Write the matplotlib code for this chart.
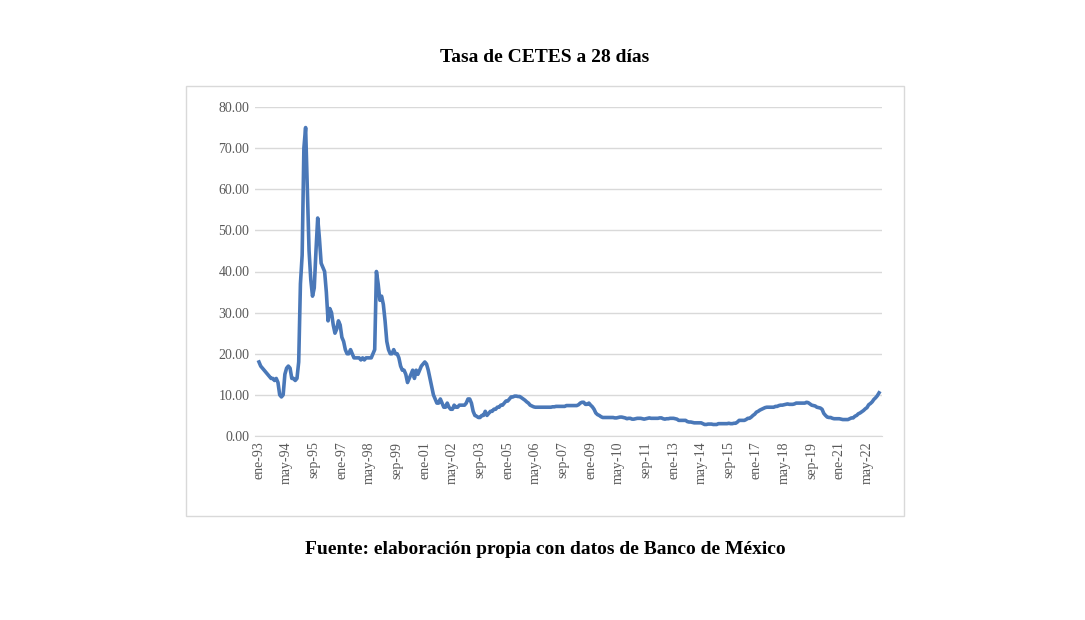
import matplotlib
matplotlib.use("Agg")
import matplotlib.pyplot as plt
from matplotlib.patches import Rectangle

tick_labels = ["ene-93","may-94","sep-95","ene-97","may-98","sep-99","ene-01","may-02",
               "sep-03","ene-05","may-06","sep-07","ene-09","may-10","sep-11","ene-13",
               "may-14","sep-15","ene-17","may-18","sep-19","ene-21","may-22"]
y1993 = [18,17,16.5,16,15.5,15,14.5,14,14,13.5,14,13]
y1994 = [10,9.5,10,15,16.5,17,16.5,14,14,13.5,14,18]
y1995 = [37,44,70,75,60,45,38,34,36,45,53,48]
y1996 = [42,41,40,35,28,31,30,27,25,26,28,27]
y1997 = [24,23,21,20,20,21,20,19,19,19,19,18.5]
y1998 = [19,18.5,19,19,19,19,20,21,40,37,33,34]
y1999 = [32,28,23,21,20,20,21,20,20,19,17,16]
y2000 = [16,15,13,14,15,16,14,16,15,16,17,17.5]
y2001 = [18,17.5,16,14,12,10,9,8,8,9,8,7]
y2002 = [7,8,7,6.5,6.5,7.5,7,7,7.5,7.5,7.5,7.5]
y2003 = [8,9,9,8,6,5,4.8,4.5,4.5,5,5,6]
y2004 = [5,5.5,6,6,6.5,6.5,7,7,7.5,7.5,8,8.5]
y2005 = [8.5,9,9.5,9.5,9.7,9.7,9.6,9.6,9.3,9,8.7,8.3]
y2006 = [8,7.5,7.3,7.1,7,7,7,7,7,7,7,7]
y2007 = [7,7,7.1,7.1,7.2,7.2,7.2,7.2,7.2,7.2,7.4,7.4]
y2008 = [7.4,7.4,7.4,7.4,7.4,7.6,8,8.2,8.2,7.7,7.7,8]
y2009 = [7.5,7.1,6.5,5.6,5.2,5,4.7,4.5,4.5,4.5,4.5,4.5]
y2010 = [4.5,4.5,4.4,4.4,4.5,4.6,4.6,4.5,4.4,4.2,4.3,4.3]
y2011 = [4.1,4.1,4.2,4.3,4.3,4.3,4.2,4.1,4.2,4.3,4.4,4.3]
y2012 = [4.3,4.3,4.3,4.3,4.4,4.4,4.2,4.1,4.2,4.2,4.3,4.3]
y2013 = [4.3,4.2,4.1,3.8,3.8,3.8,3.8,3.8,3.5,3.4,3.4,3.3]
y2014 = [3.2,3.2,3.2,3.2,3.2,3.0,2.8,2.8,2.9,2.9,2.9,2.8]
y2015 = [2.8,2.8,3,3,3,3,3,3,3.1,3,3,3.1]
y2016 = [3.1,3.4,3.8,3.8,3.8,3.8,4,4.3,4.3,4.6,5,5.3]
y2017 = [5.8,6,6.3,6.5,6.7,6.9,7,7,7,7,7,7.2]
y2018 = [7.2,7.4,7.5,7.5,7.6,7.7,7.8,7.7,7.7,7.7,7.8,8]
y2019 = [8,8,8,8,8,8.2,8.1,7.8,7.5,7.4,7.3,7]
y2020 = [6.9,6.8,6.5,5.5,5,4.6,4.5,4.5,4.3,4.2,4.2,4.2]
y2021 = [4.2,4.1,4,4,4,4,4.2,4.4,4.4,4.8,5,5.4]
y2022 = [5.6,5.9,6.2,6.6,6.9,7.6,7.9,8.3,8.9,9.3,9.8,10.5]
years = [y1993,y1994,y1995,y1996,y1997,y1998,y1999,y2000,y2001,y2002,y2003,y2004,y2005,
         y2006,y2007,y2008,y2009,y2010,y2011,y2012,y2013,y2014,y2015,y2016,y2017,y2018,
         y2019,y2020,y2021,y2022]
values = [v for yr in years for v in yr]
months = list(range(len(values)))

plt.rcParams['font.family'] = ['Liberation Serif', 'DejaVu Serif']
fig = plt.figure(figsize=(10.85, 6.2), dpi=100)
fig.patches.append(Rectangle((186/1085, 1-516/620), 718/1085, 430/620, transform=fig.transFigure,
                             fill=False, edgecolor='#d9d9d9', linewidth=1))
ax = fig.add_axes([255/1085, 1-436/620, 627/1085, 329/620])
ax.plot(months, values, color='#4a78b8', linewidth=2.6)
ax.set_ylim(0, 80)
ax.set_xlim(-2.3, 360.7)
ax.set_yticks(range(0, 81, 10))
ax.set_yticklabels([f"{v:.2f}" for v in range(0, 81, 10)])
ax.set_xticks([i*16 for i in range(len(tick_labels))])
ax.set_xticklabels(tick_labels, rotation=90)
ax.tick_params(length=0, labelsize=10, colors='#595959', pad=4)
ax.grid(axis='y', color='#d9d9d9', linewidth=1)
ax.set_axisbelow(True)
for s in ax.spines.values():
    s.set_visible(False)
ax.spines['bottom'].set_visible(True)
ax.spines['bottom'].set_color('#d9d9d9')
fig.text(545/1085, 1-57/620, "Tasa de CETES a 28 días", ha='center', va='center',
         fontsize=14, fontweight='bold')
fig.text(545/1085, 1-550/620, "Fuente: elaboración propia con datos de Banco de México",
         ha='center', va='center', fontsize=14, fontweight='bold')
fig.savefig("out.png", dpi=100)
